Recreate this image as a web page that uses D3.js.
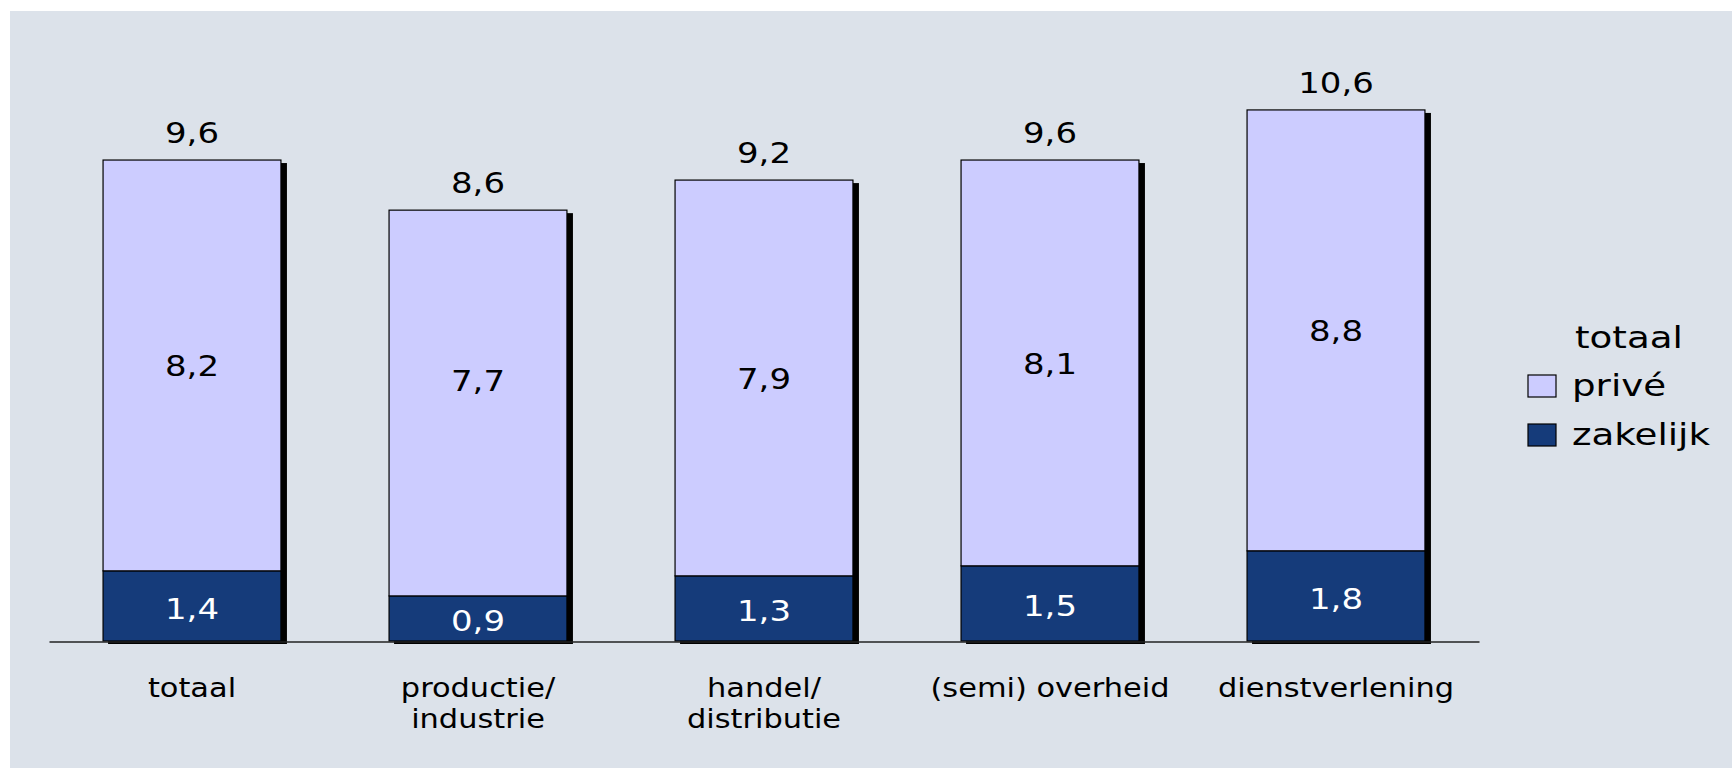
<!DOCTYPE html>
<html>
<head>
<meta charset="utf-8">
<script src="https://cdn.jsdelivr.net/npm/d3@7"></script>
<style>
  html, body { margin: 0; padding: 0; background: #ffffff; }
  svg { display: block; }
  text { font-family: "DejaVu Sans", Verdana, sans-serif; }
</style>
</head>
<body>
<svg id="chart" width="1732" height="768"></svg>
<script>
// ---- data ----
const categories = ["totaal", "productie/\nindustrie", "handel/\ndistributie", "(semi) overheid", "dienstverlening"];
const zakelijk = [1.4, 0.9, 1.3, 1.5, 1.8];
const prive = [8.2, 7.7, 7.9, 8.1, 8.8];
const totaal = [9.6, 8.6, 9.2, 9.6, 10.6];
const seriesNames = ["zakelijk", "privé"];
const legendTitle = "totaal";
const legendItems = ["privé", "zakelijk"];

// ---- layout / style (not data) ----
const W = 1732, H = 768;
const colors = { "privé": "#CCCCFF", "zakelijk": "#153B7A" };
const SX = 1.17; // horizontal text stretch of the original
const labelNudge = { "privé|productie/\nindustrie": -23 }; // label placement quirk in the original
const fmt = d3.formatLocale({ decimal: ",", thousands: ".", grouping: [3], currency: ["", "€"] }).format(".1f");

const svg = d3.select("#chart");

svg.append("rect").attr("x", 10).attr("y", 11).attr("width", W - 10).attr("height", H - 11)
  .attr("fill", "#DCE2EA");

const rows = categories.map((c, i) => ({ cat: c, "zakelijk": zakelijk[i], "privé": prive[i], totaal: totaal[i] }));

const x = d3.scaleBand().domain(categories).range([49, 1479]).paddingInner(0.378).paddingOuter(0.189);
const y = d3.scaleLinear().domain([0, 12]).range([641, 641 - 12 * 50.1]);

const stack = d3.stack().keys(seriesNames);
const stacked = stack(rows);

// shadows
svg.append("g").selectAll("rect").data(rows).join("rect")
  .attr("x", d => x(d.cat) + 5)
  .attr("y", d => y(d.totaal) + 3)
  .attr("width", x.bandwidth() + 1)
  .attr("height", d => y(0) - y(d.totaal))
  .attr("fill", "#000");

// bars
const gSeries = svg.append("g").selectAll("g").data(stacked).join("g")
  .attr("fill", d => colors[d.key]);
gSeries.selectAll("rect").data(d => d).join("rect")
  .attr("x", d => x(d.data.cat))
  .attr("y", d => y(d[1]))
  .attr("width", x.bandwidth())
  .attr("height", d => y(d[0]) - y(d[1]))
  .attr("stroke", "#000")
  .attr("stroke-width", 1.2);

// axis line
const axis = d3.axisBottom(x).tickSize(0).tickFormat("");
const gAxis = svg.append("g").attr("transform", `translate(0,${y(0) + 0.5})`).call(axis);
gAxis.select(".domain").attr("stroke", "#222").attr("stroke-width", 1.5);

function stretchedText(g, tx, ty, str, size, anchor, fill, sx) {
  return g.append("text")
    .attr("transform", `translate(${tx},${ty}) scale(${sx || SX},1)`)
    .attr("text-anchor", anchor)
    .attr("font-size", size)
    .attr("fill", fill)
    .text(str);
}

// segment labels
const gLab = svg.append("g");
stacked.forEach(s => {
  s.forEach(d => {
    const cx = x(d.data.cat) + x.bandwidth() / 2;
    const nudge = (labelNudge[s.key + "|" + d.data.cat] || 0) + (s.key === "zakelijk" ? 3 : 1);
    const cy = (y(d[0]) + y(d[1])) / 2 + 10 + nudge;
    stretchedText(gLab, cx, cy, fmt(d[1] - d[0]), 29, "middle", s.key === "zakelijk" ? "#fff" : "#000");
  });
});
// total labels
rows.forEach(d => {
  stretchedText(gLab, x(d.cat) + x.bandwidth() / 2, y(d.totaal) - 17, fmt(d.totaal), 29, "middle", "#000");
});

// category labels
const gCat = svg.append("g");
categories.forEach(c => {
  const lines = c.split("\n");
  lines.forEach((ln, j) => {
    stretchedText(gCat, x(c) + x.bandwidth() / 2, 697 + j * 31, ln, 26, "middle", "#000");
  });
});

// legend
const gLeg = svg.append("g");
stretchedText(gLeg, 1575, 348, legendTitle, 31, "start", "#000", 1.2);
legendItems.forEach((k, i) => {
  const ly = 396 + i * 49;
  gLeg.append("rect").attr("x", 1528).attr("y", ly - 21).attr("width", 28).attr("height", 22)
    .attr("fill", colors[k]).attr("stroke", "#000").attr("stroke-width", 1.2);
  stretchedText(gLeg, 1572, ly, k, 31, "start", "#000", 1.2);
});
</script>
</body>
</html>
